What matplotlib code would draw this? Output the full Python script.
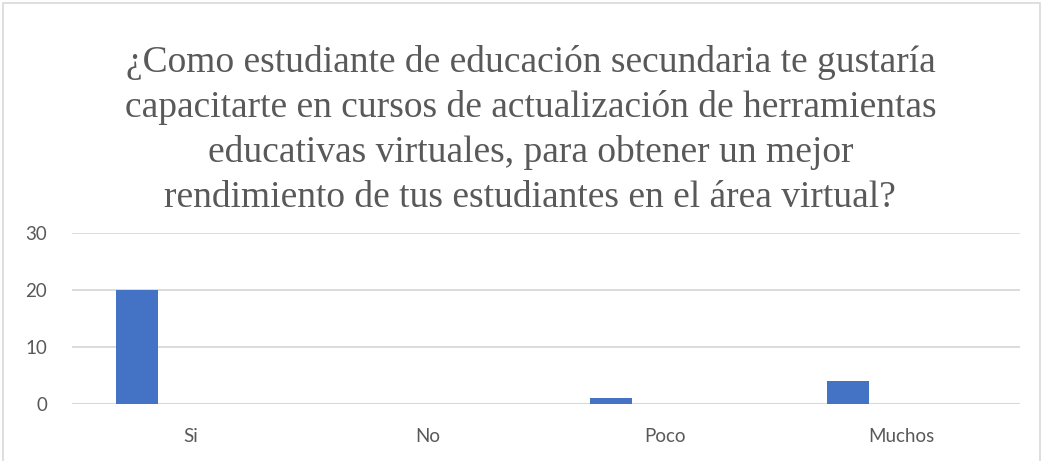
import numpy as np
import matplotlib.pyplot as plt
from matplotlib.patches import Rectangle

categories = ['Si', 'No', 'Poco', 'Muchos']
values = [20, 0, 1, 4]
yticks = [0, 10, 20, 30]

title = ('¿Como estudiante de educación secundaria te gustaría\n'
         'capacitarte en cursos de actualización de herramientas\n'
         'educativas virtuales, para obtener un mejor\n'
         'rendimiento de tus estudiantes en el área virtual?')

fig = plt.figure(figsize=(10.42, 4.61), dpi=100)
ax = fig.add_axes([72 / 1042, 57 / 461, 948 / 1042, 171 / 461])

x = np.arange(len(categories))
ax.bar(x - 0.225, values, width=0.175, color='#4472C4', zorder=3)

ax.set_xlim(-0.5, len(categories) - 0.5)
ax.set_ylim(0, 30)
ax.set_yticks(yticks)
ax.set_xticks(x)
ax.set_xticklabels(categories)
ax.grid(True, axis='y', color='#D9D9D9', linewidth=1.3, zorder=0)
for s in ax.spines.values():
    s.set_visible(False)
ax.tick_params(length=0, colors='#595959', labelsize=13.5)
ax.tick_params(axis='y', pad=18)
ax.tick_params(axis='x', pad=17)
for lbl in ax.get_xticklabels() + ax.get_yticklabels():
    lbl.set_family('Lato')
ax.axhline(0, color='#D9D9D9', linewidth=1.5, zorder=2)

fig.text(0.509, 1 - 130 / 461, title, ha='center', va='center',
         family='Liberation Serif', fontsize=27, color='#595959', linespacing=1.38)

# outer chart frame
fig.patches.append(Rectangle((3 / 1042, -0.01), 1037 / 1042, 1 - 3 / 461 + 0.01,
                             transform=fig.transFigure, fill=False,
                             edgecolor='#D9D9D9', linewidth=1.2))

fig.savefig('out.png', dpi=100)
